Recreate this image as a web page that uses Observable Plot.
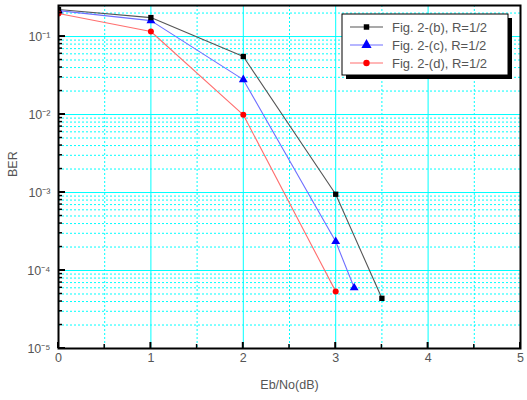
<!DOCTYPE html>
<html><head><meta charset="utf-8">
<script src="https://cdn.jsdelivr.net/npm/d3@7"></script>
<script src="https://cdn.jsdelivr.net/npm/@observablehq/plot@0.6"></script>
<style>
body{margin:0;background:#fff;font-family:"Liberation Sans",Arial,sans-serif;}
</style></head><body><div id="chart"></div>
<script>
const snrB = [0, 1, 2, 3, 3.5];
const berB = [0.222, 0.175, 0.0555, 9.5e-4, 4.4e-5];
const snrC = [0, 1, 2, 3, 3.2];
const berC = [0.215, 0.16, 0.028, 2.35e-4, 6.0e-5];
const snrD = [0, 1, 2, 3];
const berD = [0.197, 0.116, 0.0099, 5.4e-5];
const seriesNames = ["Fig. 2-(b), R=1/2", "Fig. 2-(c), R=1/2", "Fig. 2-(d), R=1/2"];
const seriesColors = ["#000000", "#0000ff", "#ff0000"];
const lineColors = ["#555555", "#6f6fff", "#ff6f6f"];
const seriesSymbols = ["square", "triangle", "circle"];
const xTicks = [0, 1, 2, 3, 4, 5];
const yTicks = [1e-5, 1e-4, 1e-3, 1e-2, 1e-1];
const supers = {"-1":"⁻¹","-2":"⁻²","-3":"⁻³","-4":"⁻⁴","-5":"⁻⁵"};

const series = [[snrB, berB], [snrC, berC], [snrD, berD]];
const data = series.flatMap(([xs, ys], i) => xs.map((x, j) => ({x, y: ys[j], s: seriesNames[i], i})));

const xMinor = d3.range(0.5, 5, 1);
const yMinor = [];
for (let e = -5; e < 0; e++) for (let m = 2; m <= 9; m++) { const v = m * Math.pow(10, e); if (v <= 0.25) yMinor.push(v); }

const W = 527, H = 400, mL = 58, mR = 7, mT = 5, mB = 52;

const plot = Plot.plot({
  width: W, height: H,
  marginLeft: mL, marginRight: mR, marginTop: mT, marginBottom: mB,
  style: {fontFamily: "Liberation Sans, Arial, sans-serif", fontSize: "12px", color: "#555", background: "#fff"},
  x: {domain: [0, 5]},
  y: {type: "log", domain: [1e-5, 0.25]},
  marks: [
    Plot.ruleX(xMinor, {stroke: "#00ffff", strokeDasharray: "2,2", strokeWidth: 1}),
    Plot.ruleY(yMinor, {stroke: "#00ffff", strokeDasharray: "2,2", strokeWidth: 1}),
    Plot.ruleX(xTicks, {stroke: "#00ffff", strokeWidth: 1}),
    Plot.ruleY(yTicks, {stroke: "#00ffff", strokeWidth: 1}),
    Plot.axisX(xTicks, {tickSize: 0, tickPadding: 5, fill: "#555", fontSize: 12.5, label: null}),
    Plot.axisY(yTicks, {tickSize: 0, tickPadding: 8, fill: "#555", fontSize: 12.5, label: null,
      tickFormat: d => "10" + supers[String(Math.round(Math.log10(d)))]}),
    Plot.line(data, {x: "x", y: "y", z: "s", stroke: d => lineColors[d.i], strokeWidth: 1.1, clip: "frame"}),
    Plot.dot(data, {x: "x", y: "y", symbol: d => seriesSymbols[d.i], fill: d => seriesColors[d.i], r: d => d.i === 1 ? 4.8 : 4, stroke: "none", clip: "frame"}),
    Plot.frame({stroke: "#000", strokeWidth: 2}),
    Plot.text(["Eb/No(dB)"], {frameAnchor: "bottom", dy: 40, fill: "#555", fontSize: 12.5}),
    Plot.text(["BER"], {frameAnchor: "left", dx: -46, rotate: -90, fill: "#555", fontSize: 12.5})
  ]
});
document.getElementById("chart").appendChild(plot);

const svg = d3.select(plot);
const sx = plot.scale("x"), sy = plot.scale("y");
const x0 = sx.apply(0), yb = sy.apply(1e-5);
// inward ticks on the left and bottom axes, placed via Plot's scales
const tg = svg.append("g").attr("stroke", "#000");
xTicks.forEach(v => tg.append("line").attr("x1", sx.apply(v)).attr("x2", sx.apply(v)).attr("y1", yb).attr("y2", yb - 6).attr("stroke-width", 2));
xMinor.forEach(v => tg.append("line").attr("x1", sx.apply(v)).attr("x2", sx.apply(v)).attr("y1", yb).attr("y2", yb - 4).attr("stroke-width", 1.5));
yTicks.forEach(v => tg.append("line").attr("y1", sy.apply(v)).attr("y2", sy.apply(v)).attr("x1", x0).attr("x2", x0 + 7).attr("stroke-width", 2));
yMinor.forEach(v => tg.append("line").attr("y1", sy.apply(v)).attr("y2", sy.apply(v)).attr("x1", x0).attr("x2", x0 + 4).attr("stroke-width", 1.5));

// legend inside the plot
const lg = svg.append("g").attr("transform", "translate(342,14)");
const lw = 166, lh = 61;
lg.append("rect").attr("x", 4).attr("y", 4).attr("width", lw).attr("height", lh).attr("fill", "#000");
lg.append("rect").attr("x", 0).attr("y", 0).attr("width", lw).attr("height", lh).attr("fill", "#fff").attr("stroke", "#000").attr("stroke-width", 1);
seriesNames.forEach((name, i) => {
  const yy = 13 + i * 18;
  lg.append("line").attr("x1", 8).attr("x2", 41).attr("y1", yy).attr("y2", yy).attr("stroke", lineColors[i]).attr("stroke-width", 1.2);
  lg.append("path").attr("transform", `translate(24.5,${yy})`)
    .attr("d", d3.symbol(i === 0 ? d3.symbolSquare : i === 1 ? d3.symbolTriangle : d3.symbolCircle, i === 0 ? 30 : i === 1 ? 45 : 32)())
    .attr("fill", seriesColors[i]);
  lg.append("text").attr("x", 50).attr("y", yy).attr("dy", "0.35em").attr("fill", "#555")
    .attr("text-anchor", "start")
    .style("font-size", "13px").style("font-family", "Liberation Sans, Arial, sans-serif").text(name);
});
</script></body></html>
